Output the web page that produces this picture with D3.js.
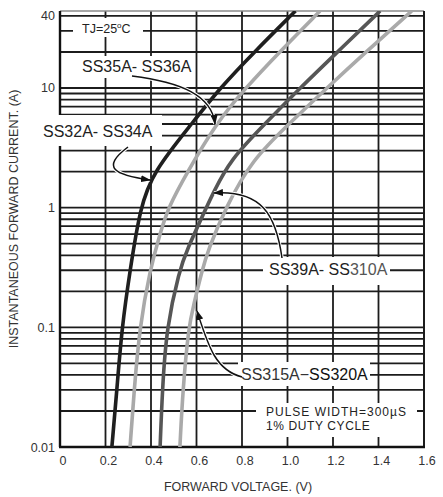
<!DOCTYPE html>
<html>
<head>
<meta charset="utf-8">
<script src="https://cdn.jsdelivr.net/npm/d3@7"></script>
<style>
  body { margin: 0; background: #fff; }
  svg { display: block; font-family: "Liberation Sans", Arial, sans-serif; }
</style>
</head>
<body>
<svg id="chart" width="443" height="497"></svg>
<script>
// Axis ticks
const xTicks = [0, 0.2, 0.4, 0.6, 0.8, 1.0, 1.2, 1.4, 1.6];
const xTickLabels = ["0", "0.2", "0.4", "0.6", "0.8", "1.0", "1.2", "1.4", "1.6"];
const yTicks = [0.01, 0.1, 1, 10, 40];
const yTickLabels = ["0.01", "0.1", "1", "10", "40"];

// Forward characteristics (current in A, voltage in V)
const current32 = [0.01, 0.03, 0.1, 0.3, 1, 2, 5, 10, 20, 44];
const voltage32 = [0.228, 0.25, 0.272, 0.308, 0.352, 0.41, 0.578, 0.703, 0.854, 1.035];

const current35 = [0.01, 0.03, 0.1, 0.3, 0.61, 1, 2, 4.9, 10, 20, 44];
const voltage35 = [0.308, 0.326, 0.35, 0.395, 0.44, 0.475, 0.561, 0.681, 0.815, 0.965, 1.143];

const current39 = [0.01, 0.03, 0.1, 0.3, 0.44, 1, 1.32, 2.5, 5, 10, 20, 44];
const voltage39 = [0.44, 0.45, 0.468, 0.525, 0.557, 0.643, 0.673, 0.747, 0.9, 1.055, 1.22, 1.407];

const current315 = [0.01, 0.03, 0.1, 0.153, 0.3, 0.44, 1, 2.5, 5, 10, 20, 44];
const voltage315 = [0.527, 0.54, 0.565, 0.587, 0.625, 0.65, 0.728, 0.843, 1.006, 1.173, 1.345, 1.546];

const series = [
  { name: "SS32A-SS34A", v: voltage32, i: current32, color: "#1f1f1f" },
  { name: "SS35A-SS36A", v: voltage35, i: current35, color: "#a9a9a9" },
  { name: "SS39A-SS310A", v: voltage39, i: current39, color: "#565656" },
  { name: "SS315A-SS320A", v: voltage315, i: current315, color: "#aaaaaa" }
];

const width = 443, height = 497;
const margin = { top: 11, right: 19, bottom: 50, left: 60 };
const svg = d3.select("#chart");

const x = d3.scaleLinear().domain([0, 1.6]).range([margin.left, width - margin.right]);
const y = d3.scaleLog().domain([0.01, 44]).range([height - margin.bottom, margin.top]);

// minor log grid: 2..9 in every decade, plus the decades themselves
const yGrid = [];
[0.01, 0.1, 1, 10].forEach(d => {
  for (let m = 1; m <= 9; m++) {
    const v = +(d * m).toPrecision(3);
    if (v > 0.01 && v < 44) yGrid.push(v);
  }
});

svg.append("defs").append("clipPath").attr("id", "plot-clip")
  .append("rect")
  .attr("x", margin.left).attr("y", margin.top)
  .attr("width", x(1.6) - x(0)).attr("height", y(0.01) - y(44));

const grid = svg.append("g");
grid.selectAll(".hgrid")
  .data(yGrid)
  .join("line")
  .attr("x1", x(0)).attr("x2", x(1.6))
  .attr("y1", d => y(d)).attr("y2", d => y(d))
  .attr("stroke", "#1c1c1c")
  .attr("stroke-width", 1.8);

grid.selectAll(".vgrid")
  .data(xTicks.slice(1, -1))
  .join("line")
  .attr("x1", d => x(d)).attr("x2", d => x(d))
  .attr("y1", y(44)).attr("y2", y(0.01))
  .attr("stroke", "#1c1c1c")
  .attr("stroke-width", 1.8);

// frame: top edge is lighter in the scan
svg.append("line")
  .attr("x1", x(0)).attr("x2", x(1.6)).attr("y1", y(44)).attr("y2", y(44))
  .attr("stroke", "#8a8a8a").attr("stroke-width", 1.5);
svg.append("line")
  .attr("x1", x(1.6)).attr("x2", x(1.6)).attr("y1", y(44)).attr("y2", y(0.01))
  .attr("stroke", "#1c1c1c").attr("stroke-width", 2);
svg.append("line")
  .attr("x1", x(0)).attr("x2", x(0)).attr("y1", y(44)).attr("y2", y(0.01))
  .attr("stroke", "#111").attr("stroke-width", 2.4);
svg.append("line")
  .attr("x1", x(0) - 1).attr("x2", x(1.6) + 1).attr("y1", y(0.01)).attr("y2", y(0.01))
  .attr("stroke", "#111").attr("stroke-width", 2.6);

// curves
const line = d3.line()
  .x(d => x(d[0]))
  .y(d => y(d[1]))
  .curve(d3.curveBasis);

svg.append("g")
  .attr("clip-path", "url(#plot-clip)")
  .selectAll("path")
  .data(series)
  .join("path")
  .attr("d", s => line(d3.zip(s.v, s.i)))
  .attr("fill", "none")
  .attr("stroke", s => s.color)
  .attr("stroke-width", 3.6)
  .attr("stroke-linecap", "butt");

// tick labels
svg.append("g")
  .selectAll("text")
  .data(xTicks)
  .join("text")
  .attr("x", d => x(d) + 3)
  .attr("y", height - margin.bottom + 18)
  .attr("text-anchor", "middle")
  .attr("font-size", 12.5)
  .attr("fill", "#333")
  .text((d, i) => xTickLabels[i]);

svg.append("g")
  .selectAll("text")
  .data(yTicks)
  .join("text")
  .attr("x", margin.left - 5)
  .attr("y", d => y(d))
  .attr("dy", "0.36em")
  .attr("text-anchor", "end")
  .attr("font-size", 12.5)
  .attr("fill", "#333")
  .text((d, i) => yTickLabels[i]);

// axis titles
svg.append("text")
  .attr("x", 238).attr("y", 491)
  .attr("text-anchor", "middle")
  .attr("font-size", 12.5)
  .attr("fill", "#333")
  .text("FORWARD VOLTAGE. (V)");

svg.append("text")
  .attr("transform", "translate(18,219) rotate(-90)")
  .attr("text-anchor", "middle")
  .attr("font-size", 12.5)
  .attr("fill", "#333")
  .text("INSTANTANEOUS FORWARD CURRENT. (A)");

// annotation boxes (white background breaks the grid)
const boxes = [
  [73, 18, 70, 19],
  [78, 56, 116, 22],
  [40, 115, 122, 31],
  [263, 257, 127, 28],
  [238, 362, 132, 24],
  [256, 403, 161, 34]
];
svg.append("g")
  .selectAll("rect")
  .data(boxes)
  .join("rect")
  .attr("x", d => d[0]).attr("y", d => d[1])
  .attr("width", d => d[2]).attr("height", d => d[3])
  .attr("fill", "#fff");

// arrows
const defs = svg.select("defs");
defs.append("marker")
  .attr("id", "arrow")
  .attr("markerUnits", "userSpaceOnUse")
  .attr("markerWidth", 10).attr("markerHeight", 7)
  .attr("refX", 9).attr("refY", 3.5)
  .attr("orient", "auto")
  .append("path")
  .attr("d", "M0,0 L10,3.5 L0,7 Z")
  .attr("fill", "#111");

const arrows = [
  "M132,76 C180,82 212,95 215,124",
  "M128,147 C100,168 115,175 150,180",
  "M282,258 C276,215 262,190 214,193",
  "M242,377 C215,370 208,345 197,311"
];
const arrowG = svg.append("g");
arrowG.selectAll(".halo")
  .data(arrows)
  .join("path")
  .attr("d", d => d)
  .attr("fill", "none")
  .attr("stroke", "#fff")
  .attr("stroke-width", 3.5);
arrowG.selectAll(".arr")
  .data(arrows)
  .join("path")
  .attr("d", d => d)
  .attr("fill", "none")
  .attr("stroke", "#111")
  .attr("stroke-width", 1.5)
  .attr("marker-end", "url(#arrow)");

// labels
const tj = svg.append("text")
  .attr("x", 82).attr("y", 33)
  .attr("font-size", 12.5)
  .attr("fill", "#222");
tj.append("tspan").text("TJ=25");
tj.append("tspan").attr("font-size", 8).attr("dy", -5).text("o");
tj.append("tspan").attr("dy", 5).text("C");

const labels = [
  { text: "SS35A- SS36A", x: 82, y: 72 },
  { text: "SS32A- SS34A", x: 43, y: 137 }
];
svg.append("g")
  .selectAll("text")
  .data(labels)
  .join("text")
  .attr("x", d => d.x).attr("y", d => d.y)
  .attr("font-size", 16)
  .attr("fill", "#222")
  .text(d => d.text);

const l39 = svg.append("text")
  .attr("x", 269).attr("y", 275)
  .attr("font-size", 16)
  .attr("fill", "#222");
l39.append("tspan").text("SS39A- SS");
l39.append("tspan").attr("fill", "#555").text("310A");

const l315 = svg.append("text")
  .attr("x", 241).attr("y", 380)
  .attr("font-size", 16)
  .attr("fill", "#333");
l315.append("tspan").text("SS315A\u2212");
l315.append("tspan").attr("fill", "#111").text("SS320A");

svg.append("text")
  .attr("x", 266).attr("y", 416)
  .attr("font-size", 12)
  .attr("letter-spacing", 1)
  .attr("fill", "#222")
  .text("PULSE WIDTH=300\u00b5S");
svg.append("text")
  .attr("x", 266).attr("y", 430)
  .attr("font-size", 12)
  .attr("letter-spacing", 0.6)
  .attr("fill", "#222")
  .text("1% DUTY CYCLE");
</script>
</body>
</html>
